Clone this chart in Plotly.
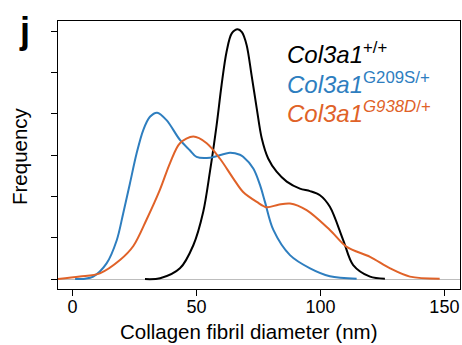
import plotly.graph_objects as go

# Collagen fibril diameter (nm) and relative frequency
wt_x = [29.2, 35.3, 43.3, 48.7, 52.7, 55.4, 58.1, 60.1, 62.1, 64.2, 66.6, 68.3, 70.2, 72.2, 74.3,
        76.3, 78.9, 82.3, 86.4, 91.7, 95.8, 99.8, 103.8, 109.2, 113.2, 120.0, 126.0]
wt_y = [0.0, 0.02, 0.26, 0.82, 1.63, 2.60, 3.73, 4.70, 5.50, 5.95, 6.05, 5.98, 5.67, 4.94, 4.13,
        3.41, 2.92, 2.60, 2.36, 2.19, 2.13, 2.03, 1.75, 0.94, 0.34, 0.06, 0.01]

g209s_x = [1.0, 5.0, 8.3, 13.7, 17.8, 20.4, 23.1, 25.8, 28.5, 31.2, 34.1, 37.9, 43.3, 47.3, 50.0,
           55.4, 63.5, 67.5, 68.8, 72.9, 75.6, 77.6, 81.0, 87.7, 95.8, 103.8, 114.6]
g209s_y = [0.0, 0.01, 0.06, 0.38, 0.94, 1.59, 2.31, 3.04, 3.61, 3.93, 4.03, 3.85, 3.37, 3.12, 2.96,
           2.94, 3.06, 3.01, 2.96, 2.68, 2.28, 1.87, 1.19, 0.58, 0.26, 0.07, 0.01]

g938d_x = [-6.0, 2.9, 11.0, 19.1, 24.5, 29.9, 35.2, 39.3, 43.3, 48.7, 54.1, 59.4, 64.8, 68.8, 74.3,
           78.3, 83.0, 87.7, 94.4, 103.8, 110.6, 120.0, 128.1, 136.1, 148.1]
g938d_y = [0.0, 0.06, 0.14, 0.46, 0.80, 1.45, 2.16, 2.81, 3.29, 3.45, 3.29, 2.92, 2.44, 2.11, 1.87,
           1.74, 1.80, 1.83, 1.67, 1.19, 0.78, 0.54, 0.26, 0.06, 0.01]

x_ticks = [0, 50, 100, 150]
y_ticks = [0, 1, 2, 3, 4, 5, 6]

series = [
    ("Col3a1+/+", wt_x, wt_y, "#000000"),
    ("Col3a1G209S/+", g209s_x, g209s_y, "#2e7ebf"),
    ("Col3a1G938D/+", g938d_x, g938d_y, "#e06228"),
]
legend_html = [
    "<i>Col3a1</i><sup>+/+</sup>",
    "<i>Col3a1</i><sup>G209S/+</sup>",
    "<i>Col3a1</i><sup><i>G938D</i>/+</sup>",
]

FONT = "Arial, Liberation Sans, sans-serif"
fig = go.Figure()
for name, xs, ys, col in series:
    fig.add_trace(go.Scatter(x=xs, y=ys, mode="lines", name=name,
                             line=dict(color=col, width=2, shape="spline", smoothing=0.9),
                             showlegend=False, hoverinfo="skip"))

W, H = 462, 345
L, R, T, B = 58, 2, 21, 56
pw, ph = W - L - R, H - T - B

def px(x):
    return (x - L) / pw

def py(y):
    return (H - B - y) / ph

fig.update_layout(
    width=W, height=H,
    margin=dict(l=L, r=R, t=T, b=B),
    paper_bgcolor="white", plot_bgcolor="white",
    font=dict(family=FONT, color="black", size=18),
    xaxis=dict(range=[-5.9, 156.3], tickvals=x_ticks, ticks="outside", ticklen=6,
               tickcolor="black", showline=True, linecolor="black", linewidth=1,
               mirror=True, showgrid=False, zeroline=False, ticklabelstandoff=-5,
               tickfont=dict(size=18, family=FONT)),
    yaxis=dict(range=[-0.24, 6.25], tickvals=y_ticks, ticks="outside", ticklen=6,
               tickcolor="black", showline=True, linecolor="black", linewidth=1,
               mirror=True, showgrid=False, showticklabels=False,
               zeroline=True, zerolinecolor="#bdbdbd", zerolinewidth=1),
)

ann = []
ann.append(dict(text="Collagen fibril diameter (nm)", x=px(248), y=py(331), xref="paper", yref="paper",
                showarrow=False, xanchor="center", yanchor="middle", font=dict(size=20.5, family=FONT)))
ann.append(dict(text="Frequency", x=px(19), y=py(156), xref="paper", yref="paper", textangle=-90,
                showarrow=False, xanchor="center", yanchor="middle", font=dict(size=20.5, family=FONT)))
ann.append(dict(text="<b>j</b>", x=px(24), y=py(30), xref="paper", yref="paper",
                showarrow=False, xanchor="center", yanchor="middle", font=dict(size=36, family=FONT)))
for (name, xs, ys, col), txt, yc in zip(series, legend_html, [53, 83, 112]):
    ann.append(dict(text=txt, x=px(285), y=py(yc), xref="paper", yref="paper",
                    showarrow=False, xanchor="left", yanchor="middle",
                    font=dict(size=24, family=FONT, color=col)))
fig.update_layout(annotations=ann)

fig.write_html("out.html", config={"displayModeBar": False},
               post_script="document.body.style.margin='0px';document.body.style.padding='0px';")
